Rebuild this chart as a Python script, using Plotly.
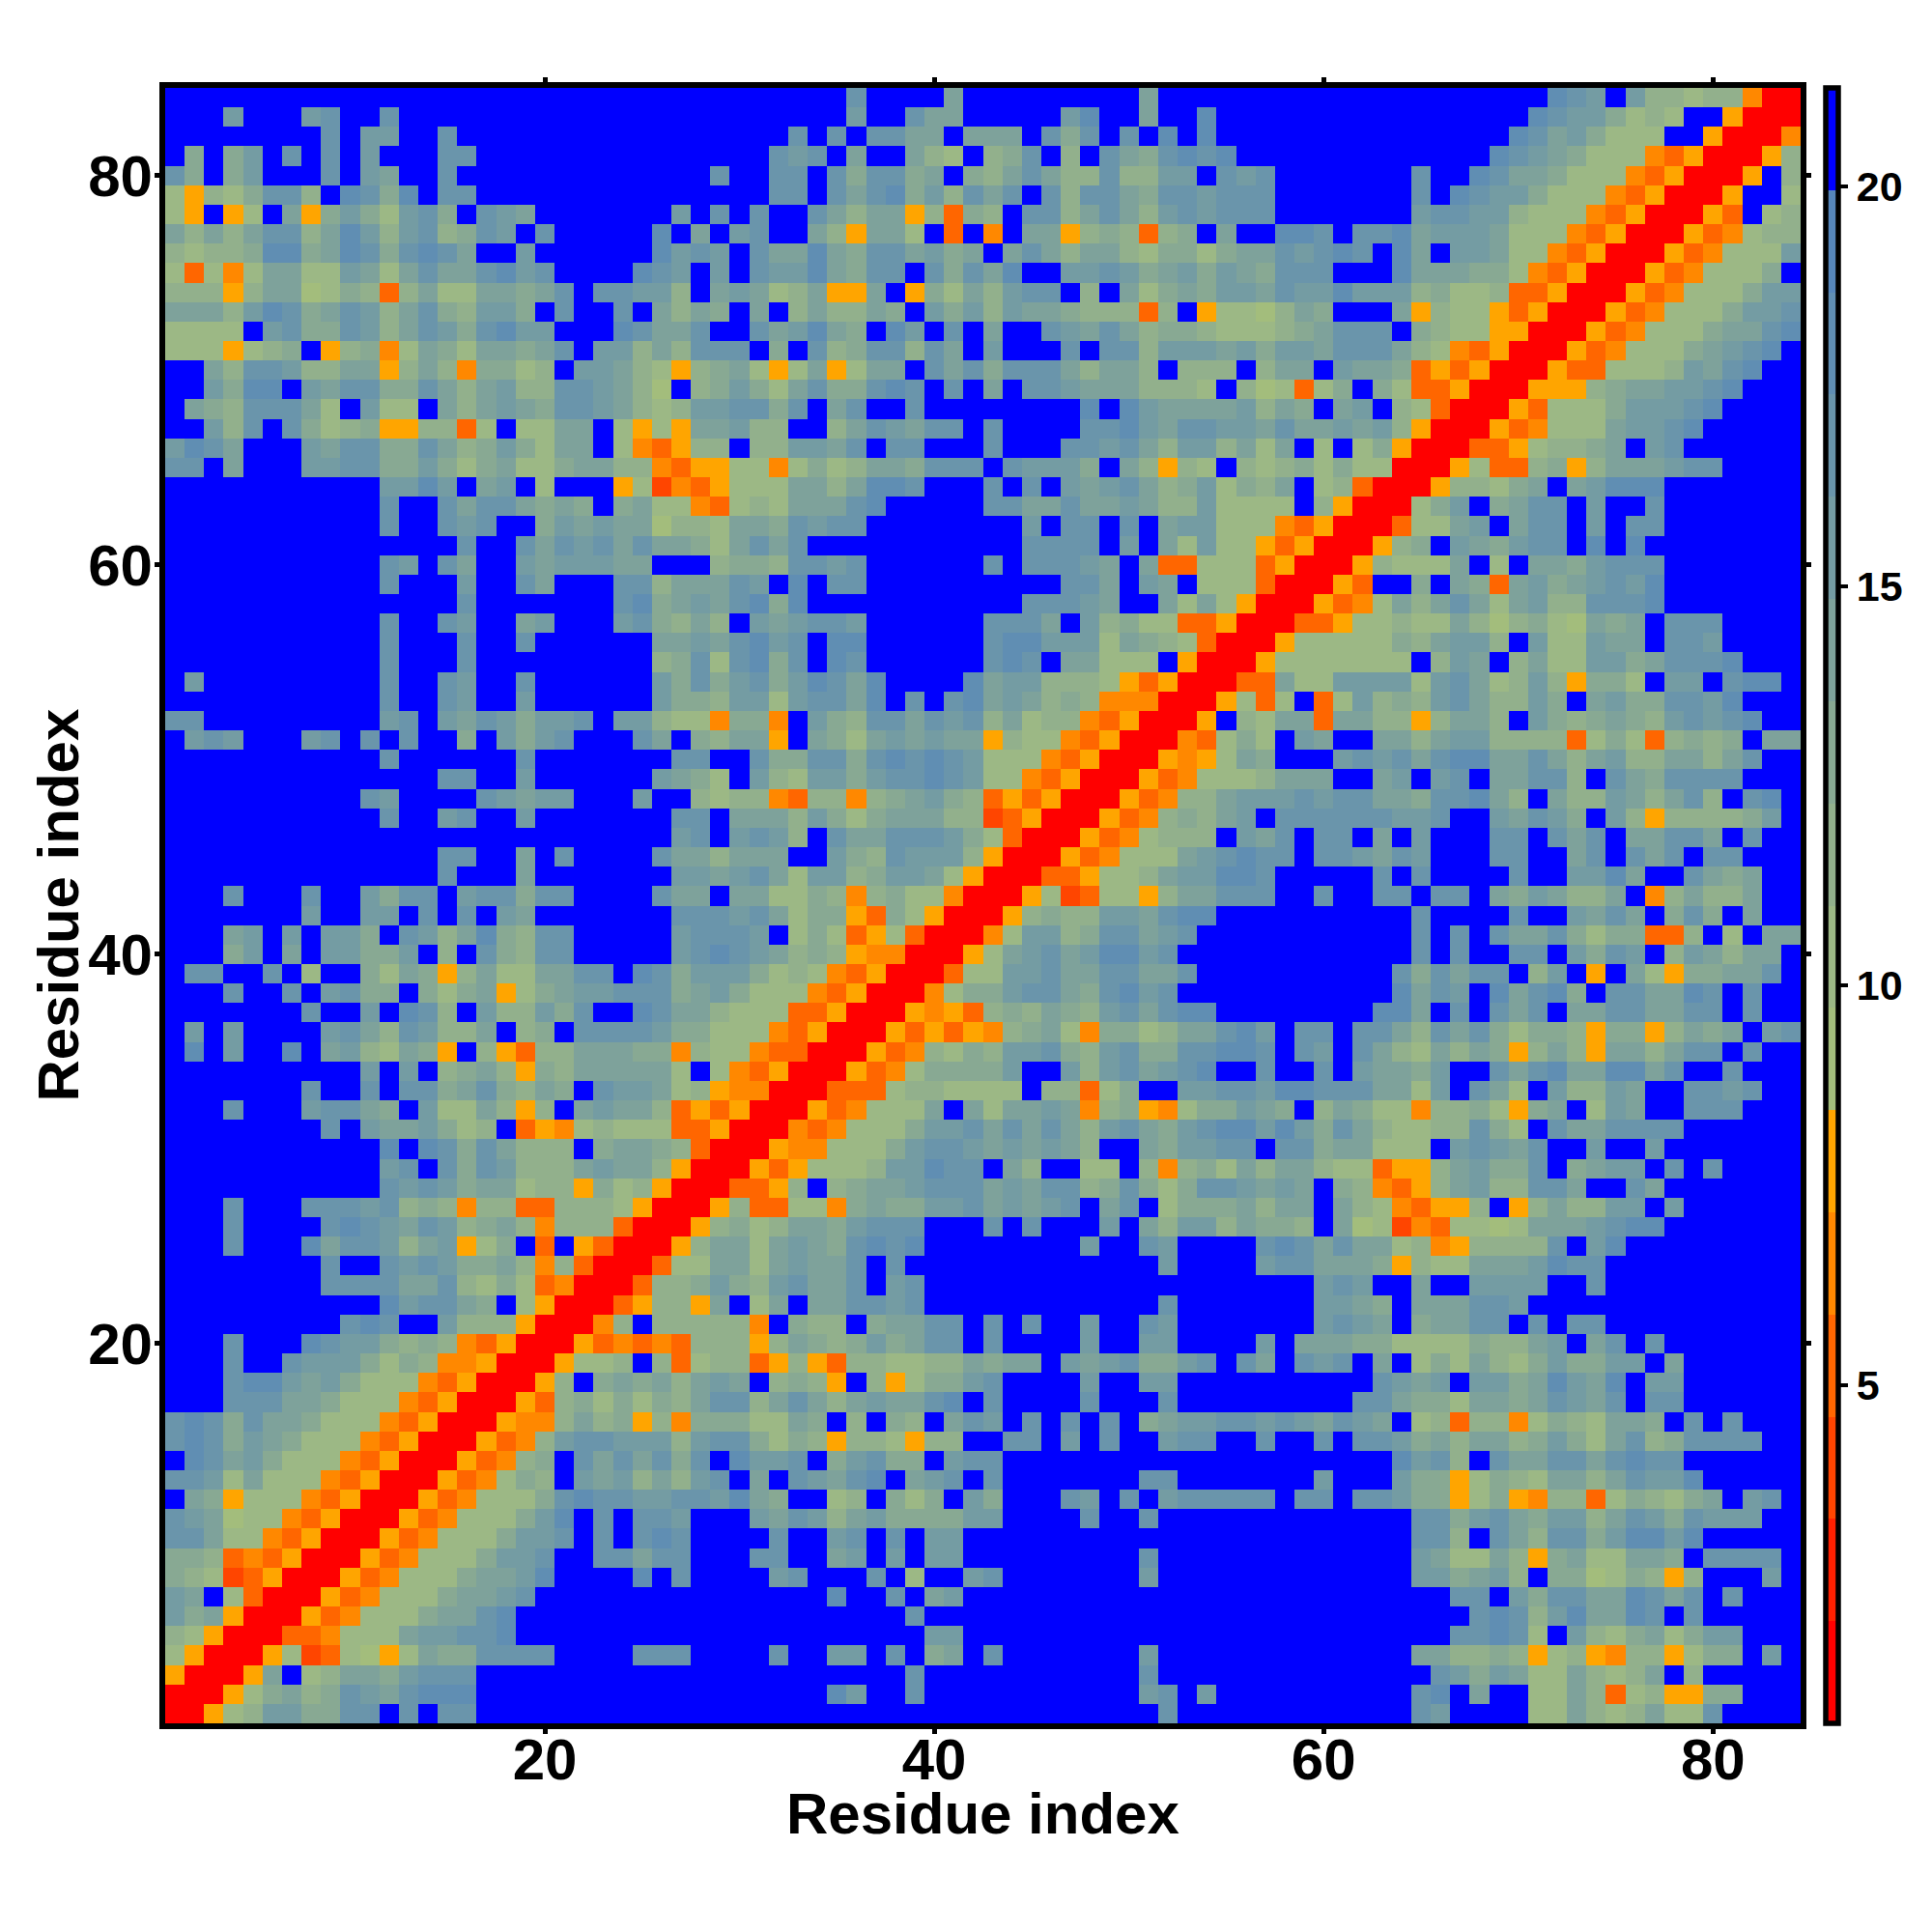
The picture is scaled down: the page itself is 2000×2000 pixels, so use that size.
import plotly.graph_objects as go

# Distance band per cell, one character per residue (0 = closest, f = beyond cutoff).
# Lower-right triangle only: each row is a residue y, each character a residue x >= y.
# '.' marks x < y, which is filled from the mirror cell. Groups of 7 only help reading.
X_01_28 = [
 "00578bb 99ccfcf ccfffff fffffff",
 ".00579a 89cbacd ddfffff fffffff",
 "..005af 78aa9bc ccfffff fffffff",
 "...0057 237657a 99ccccf fffcccf",
 "....003 34777ab bccdfff fffffff",
 ".....00 5347779 aacdfff fffffff",
 "......0 0534777 9aabcff fffffff",
 "....... 0053477 79aabdf fffdfcf",
 "....... .005347 779bbcf fccaccf",
 "....... ..00534 7779bbc fcfcdcf",
 "....... ...0053 47779bd fcfccbf",
 "....... ....005 347779c dccbbcc",
 "....... .....00 534798f bab8a8b",
 "....... ......0 053489f cacac9c",
 "....... ....... 005348b ccbbb8b",
 "....... ....... .005448 a895849",
 "....... ....... ..00538 979798a",
 "....... ....... ...0058 f9a9a8a",
 "....... ....... ....005 778f837",
 "....... ....... .....00 5343438",
 "....... ....... ......0 048f888",
 "....... ....... ....... 0035885",
 "....... ....... ....... .003889",
 "....... ....... ....... ..00377",
 "....... ....... ....... ...0058",
 "....... ....... ....... ....005",
 "....... ....... ....... .....00",
 "....... ....... ....... ......0",
]
X_29_56 = [
 "fffffff fffffff fffffff ffcffff",
 "ffffffd bffcfff fffffff fbcfbff",
 "fffffff fffcfff fffffff fcfffff",
 "fffcffb bfcf9af cffffff fbfffff",
 "fffffff ffffbbf fffffff fffffff",
 "fffffff fffcfff fffffff fffffff",
 "ffffffd ffcfabf fffffff fffffff",
 "fffbcff fcf7ffb cffffff fbfffff",
 "ffccffa bfbfbbf fffffff fcfffff",
 "fffcffb cfcfbbf fffffff fffffff",
 "ffbacb8 ab9999b bffffcf fcfffff",
 "bda9ff7 8f979fb 9fffcbf cfbcccc",
 "cfafcba cdfabcf cffffff fccffff",
 "fdbbcf9 bc99fbc cffffff fffffff",
 "cc97985 887588f fccfbfc ffbccff",
 "9977a9f 8f98fac bfcfcfc f9abbcc",
 "cc8aca8 abaacdf cffffcf ffcffff",
 "baf8985 f85799b cffffbf fbbffff",
 "8835853 887788a 9aafbab c99bcfc",
 "8858a98 9b9accf cffffbf fbbffff",
 "884f988 f9aaccf cfcffbf fcbffff",
 "af7afaa ccbcfff fffffff ffcffff",
 "b98bcaa cfbcfff fffffff fffffff",
 "aa7abaa cfcffff fffffff ffbffff",
 "aa7aba9 cdcdfff fffffbf fcbffff",
 "8978aa9 bcccfff cfcfffb fa8bb8a",
 "5833774 9a99bbc ababcfa cf7999a",
 "03358f8 9aabccc abacc89 c979ccb",
 "0053577 78bbdcc fa8ff77 f84897a",
 ".005447 779bccb ababa8f fa9bbcc",
 "..00434 7779bbc acaca8b ca9bcdd",
 "...0053 4777afa 7aaba48 954799b",
 "....003 3378877 77f8837 9ffbbcc",
 ".....00 5347999 9bffb8b cabcdff",
 "......0 0534879 8bbc98b c99ccdd",
 "....... 0053535 489a749 978aacd",
 "....... .005453 898a98b cacddff",
 "....... ..00479 9bcca9c dbcffff",
 "....... ...0037 7bbcaac caacfff",
 "....... ....005 7abcabd dbcffff",
 "....... .....00 47bb89c cabcfff",
 "....... ......0 058988b bacddff",
 "....... ....... 0057237 758aacc",
 "....... ....... .003357 78abbdd",
 "....... ....... ..00534 777abcd",
 "....... ....... ...0053 47888fb",
 "....... ....... ....005 34898ab",
 "....... ....... .....00 53488ab",
 "....... ....... ......0 0534777",
 "....... ....... ....... 005457a",
 "....... ....... ....... .004379",
 "....... ....... ....... ..005f8",
 "....... ....... ....... ...0057",
 "....... ....... ....... ....003",
 "....... ....... ....... .....00",
 "....... ....... ....... ......0",
]
X_57_84 = [
 "fffffff fcbffff 77a878a 77cffff",
 "fffffff fcdfaff 77a8378 5599fff",
 "fffffff ffcb9ba 77a878a f8fffff",
 "fffffff faa8898 5785488 5799fbf",
 "fffffff fffccdc 7fb879a 79bbfff",
 "fffffff ffffcdc 8bdaadc fcfffff",
 "fffffff fffccfb 9ccaadc acfcfff",
 "fffffff fbb9ab8 f996798 58fffbf",
 "fffffff fba77a8 59a77aa 9fccccf",
 "fffffff fcc8fca 8cc9bdd bdfffff",
 "fffffff fcc9bca 9bb8acb 9cbbbff",
 "cfccfcc b995795 4883798 79afbcf",
 "fffbfff b995798 7aa8acb bdfffff",
 "fffffff dbc8fca accacdc cffffff",
 "cffcfcc b9a8aa8 9b97ac8 9ccccff",
 "bcbacba f783884 7987aa9 fcfcfff",
 "fffffcc a997aa9 acbacfc cffffff",
 "ffffffc babfbb9 adbadfb bffffff",
 "afcbcfa f797a87 9b99bbf affffff",
 "bfaaa99 7777988 abfacfc fffffff",
 "fffbcba f9aaccf cfccfff fffffff",
 "fffbba9 faaaccb fffffff fffffff",
 "fffbcbf faffbbb bffcfff fffffff",
 "bccaaa9 5877aaa bdccfff fffffff",
 "cdcacaa 7845888 8cfbdff fffffff",
 "998fa67 2437767 aaabcdd fffffff",
 "8aafa87 43558f5 8a88bbf bffffff",
 "abaf984 358ab88 ccaffca fffffff",
 "8aa8773 558ab99 cf9abbf cfcffff",
 "fcc9aa7 77fbcba cffbffb fffffff",
 "bdb9ca8 7788c97 fcaaccc cffffff",
 "a9f8a97 7488975 9af7baf fcccfff",
 "bddccca a7bfca7 fb88baf fccbcff",
 "cffcfba a9bffca cdaadda cffcfff",
 "cfcbfca 87a8a95 8a85aa8 accfcff",
 "bfccfcc a8cac97 9985995 8a9afbc",
 "ffffffd dafcfca cfaacca accfcff",
 "fffffff dacbfda cd9fcca adcfcff",
 "fffffff c9caccf 8bf5fa7 599aacf",
 "fffffff fcfcffc cfb9cbf 8ba8aaf",
 "fffffff fcfcfca ac97993 38f7faa",
 "fffffff fcffffc ffbacaf 9c9faff",
 "cffcffc cfccfa9 ba88af4 8a88aff",
 "cfffffc fcffffc ffbbdaf fca9aff",
 "ccfccba cbfffcc ffacfca cfccfff",
 "acfccfa fbfffcc fcacfaa ccafcff",
 "fcccccc bbcffba cb9fb85 88889bf",
 "bbcbcca a9ccda8 fa88ba8 ac8fcdf",
 "8aaaffa bfbcfaa cc8fca9 ccccfff",
 "9fffbcb cacddaa ca8ab88 aa8acff",
 "7fbaffa a8abb88 8837973 8989faa",
 "7aa3aa8 858aa8f b989a98 bcbcdff",
 "37f37b8 98bca88 b9fab99 ccbdfff",
 "3a77bbb b7bca78 b85997f bbfcddf",
 "5777777 7f8baf8 a77bb9a cccdfff",
 "0577777 98abb8f b77baaf ccbffff",
 "0033577 877a868 976a9af cccffff",
 ".005347 a8aca7a b88cccd fffffff",
 "..0053f f9fa93a b9abcbd fffffff",
 "...0058 777af7f aa9bccc fffffff",
 "....005 89fba9b ccfdfdf fffffff",
 ".....00 377abfa ccfbfcc fffffff",
 "......0 079bf9a ccfbffc fffffff",
 "....... 0058879 afabddd fffffff",
 "....... .005733 8958aaa bccffff",
 "....... ..00335 7889afb cffffff",
 "....... ...0053 4777abb cdfffff",
 "....... ....005 37779bb bcdffff",
 "....... .....00 55589aa bbcdfff",
 "....... ......0 0533777 8bacdff",
 "....... ....... 0053477 79abcdf",
 "....... ....... .005347 779aacd",
 "....... ....... ..00534 7779bbc",
 "....... ....... ...0053 47779bb",
 "....... ....... ....005 347779f",
 "....... ....... .....00 534777b",
 "....... ....... ......0 0534788",
 "....... ....... ....... 0053f78",
 "....... ....... ....... .005ff7",
 "....... ....... ....... ..005f8",
 "....... ....... ....... ...0058",
 "....... ....... ....... ....004",
 "....... ....... ....... .....00",
 "....... ....... ....... ......0",
]

BAND_COLORS = ["#ff0000", "#ff2000", "#ff4500", "#ff6600", "#ff8800", "#ffa500",
               "#a3bd7c", "#9cb885", "#92b08c", "#88a993", "#7ea29b", "#749ca3",
               "#6a95ab", "#608eb3", "#5686bb", "#0000ff"]
Z_MIN, Z_MAX = 0.77, 21.23
RESIDUES = list(range(1, 85))
TICKS = [20, 40, 60, 80]
CBAR_TICKS = [5, 10, 15, 20]
AXIS_TITLE = "Residue index"

N = len(RESIDUES)
BAND = (Z_MAX - Z_MIN) / len(BAND_COLORS)


def row_text(i):
    a = X_01_28[i] if i < len(X_01_28) else "." * 28
    b = X_29_56[i] if i < len(X_29_56) else "." * 28
    c = X_57_84[i]
    return (a + b + c).replace(" ", "")


z = [[None] * N for _ in range(N)]
for i in range(N):
    text = row_text(i).ljust(N, "f")[:N]
    for j in range(i, N):
        ch = text[j]
        level = 0 if ch == "." else int(ch, 16)
        value = Z_MIN + (level + 0.5) * BAND
        z[i][j] = value
        z[j][i] = value

scale = []
for k, col in enumerate(BAND_COLORS):
    scale.append([k / len(BAND_COLORS), col])
    scale.append([(k + 1) / len(BAND_COLORS), col])

FONT = "Liberation Sans"
tick_font = dict(family=FONT, size=60, color="black", weight="bold")

fig = go.Figure(go.Heatmap(
    x=RESIDUES, y=RESIDUES, z=z, zmin=Z_MIN, zmax=Z_MAX, colorscale=scale, xgap=0, ygap=0,
    hoverinfo="skip",
    colorbar=dict(
        x=1.0152, xanchor="left", xpad=0, y=0, yanchor="bottom", ypad=0, len=1,
        thickness=12.5, outlinewidth=5.5, outlinecolor="black",
        tickvals=CBAR_TICKS, ticks="outside", ticklen=8, tickwidth=4, tickcolor="black",
        tickfont=dict(family=FONT, size=43, color="black", weight="bold"),
    ),
))
axis = dict(
    range=[0.5, 84.5], tickvals=TICKS, ticks="outside", ticklen=5, tickwidth=5, tickcolor="black",
    showline=True, linewidth=6, linecolor="black", mirror="allticks", showgrid=False, zeroline=False,
    tickfont=tick_font,
)
fig.update_xaxes(**axis, ticklabelstandoff=-25)
fig.update_yaxes(**axis, ticklabelstandoff=-10)
fig.update_layout(
    width=2000, height=2000, paper_bgcolor="white", plot_bgcolor="white",
    margin=dict(l=163, r=144, t=83, b=224, autoexpand=False), font=dict(family=FONT),
    annotations=[
        dict(text=AXIS_TITLE, xref="paper", yref="paper", x=0.5, y=0, xanchor="center", yanchor="middle",
             yshift=-93, showarrow=False, font=tick_font),
        dict(text=AXIS_TITLE, xref="paper", yref="paper", x=0, y=0.5, xanchor="center", yanchor="middle",
             xshift=-111, textangle=-90, showarrow=False, font=tick_font),
    ],
)
fig.write_html("out.html")
